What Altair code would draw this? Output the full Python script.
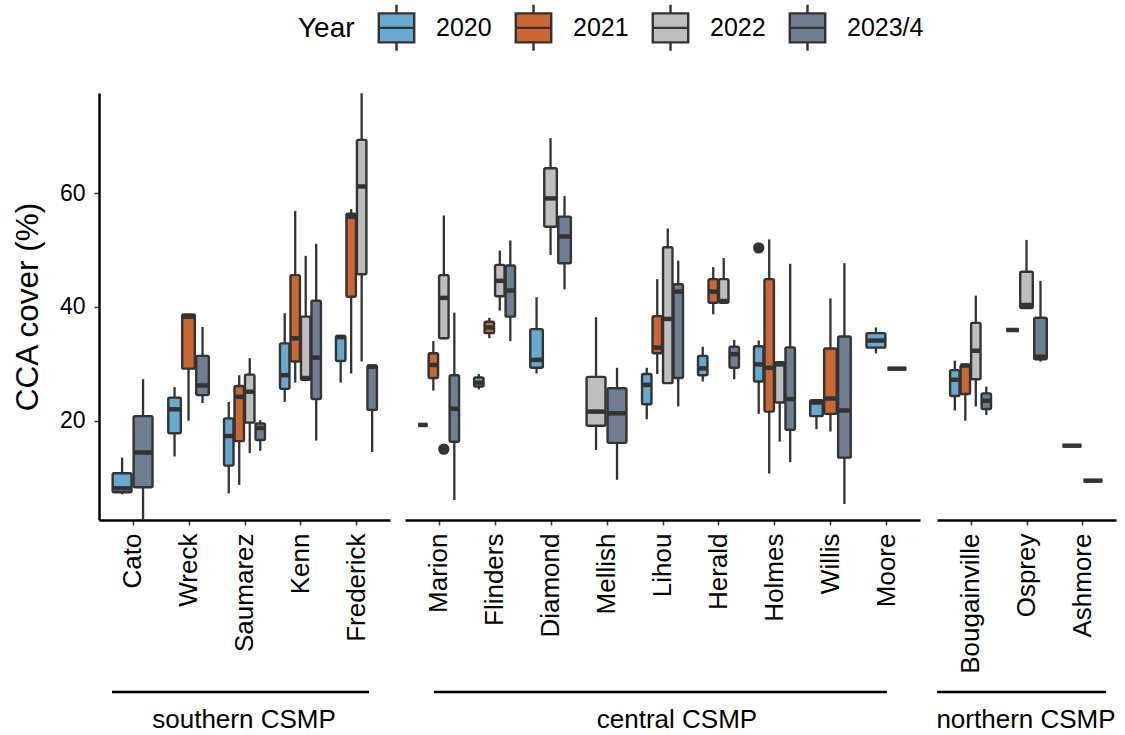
import altair as alt
import pandas as pd

FONT = "Liberation Sans"

south_sites = ["Cato", "Wreck", "Saumarez", "Kenn", "Frederick"]
central_sites = ["Marion", "Flinders", "Diamond", "Mellish", "Lihou", "Herald", "Holmes", "Willis", "Moore"]
north_sites = ["Bougainville", "Osprey", "Ashmore"]
years = ["2020", "2021", "2022", "2023/4"]
colors = ["#68A9CF", "#CC6633", "#BEBEBE", "#6F7F91"]

site = ["Cato", "Cato",
        "Wreck", "Wreck", "Wreck",
        "Saumarez", "Saumarez", "Saumarez", "Saumarez",
        "Kenn", "Kenn", "Kenn", "Kenn",
        "Frederick", "Frederick", "Frederick", "Frederick",
        "Marion", "Marion", "Marion", "Marion",
        "Flinders", "Flinders", "Flinders", "Flinders",
        "Diamond", "Diamond", "Diamond",
        "Mellish", "Mellish",
        "Lihou", "Lihou", "Lihou", "Lihou",
        "Herald", "Herald", "Herald", "Herald",
        "Holmes", "Holmes", "Holmes", "Holmes",
        "Willis", "Willis", "Willis",
        "Moore", "Moore",
        "Bougainville", "Bougainville", "Bougainville", "Bougainville",
        "Osprey", "Osprey", "Osprey",
        "Ashmore", "Ashmore"]
year = ["2020", "2023/4",
        "2020", "2021", "2023/4",
        "2020", "2021", "2022", "2023/4",
        "2020", "2021", "2022", "2023/4",
        "2020", "2021", "2022", "2023/4",
        "2020", "2021", "2022", "2023/4",
        "2020", "2021", "2022", "2023/4",
        "2020", "2022", "2023/4",
        "2022", "2023/4",
        "2020", "2021", "2022", "2023/4",
        "2020", "2021", "2022", "2023/4",
        "2020", "2021", "2022", "2023/4",
        "2020", "2021", "2023/4",
        "2020", "2023/4",
        "2020", "2021", "2022", "2023/4",
        "2021", "2022", "2023/4",
        "2022", "2023/4"]
lo = [7.05, 2.6,
      13.7, 20.0, 23.1,
      7.2, 8.7, 14.3, 14.7,
      23.3, 26.7, 27.0, 16.5,
      26.7, 28.3, 30.4, 14.5,
      19.25, 25.3, 34.5, 6.05,
      25.5, 34.5, 39.35, 34.0,
      28.3, 49.15, 43.1,
      14.85, 9.6,
      20.25, 28.2, 26.5, 22.5,
      26.9, 38.7, 40.75, 27.3,
      21.2, 10.7, 16.3, 12.7,
      18.5, 18.1, 5.35,
      31.85, 29.15,
      21.8, 20.0, 22.5, 21.0,
      35.95, 39.8, 30.4,
      15.6, 9.45]
q1 = [7.4, 8.3,
      17.8, 29.15, 24.5,
      12.1, 16.4, 19.65, 16.6,
      25.6, 30.4, 27.2, 23.8,
      30.5, 41.8, 45.75, 21.9,
      19.25, 27.5, 34.5, 16.3,
      26.0, 35.4, 41.9, 38.3,
      29.3, 54.1, 47.7,
      19.1, 16.1,
      22.9, 31.85, 26.6, 27.5,
      28.0, 40.75, 40.75, 29.3,
      26.9, 21.6, 23.2, 18.4,
      20.8, 21.2, 13.5,
      32.85, 29.15,
      24.35, 24.7, 27.3, 22.05,
      35.95, 39.8, 30.8,
      15.6, 9.45]
med = [8.1, 14.4,
       22.0, 38.3, 26.2,
       17.3, 24.2, 25.1, 18.7,
       28.0, 34.5, 27.5, 31.1,
       34.7, 55.9, 61.2, 29.5,
       19.25, 29.8, 41.6, 22.1,
       26.7, 36.4, 44.6, 42.9,
       30.7, 59.1, 52.4,
       21.6, 21.3,
       26.3, 32.85, 37.9, 42.7,
       29.2, 42.7, 41.05, 31.7,
       29.9, 29.3, 29.9, 23.8,
       23.2, 23.9, 21.8,
       34.1, 29.15,
       27.2, 29.7, 32.3, 23.5,
       35.95, 40.35, 31.25,
       15.6, 9.45]
q3 = [10.75, 20.8,
      24.05, 38.7, 31.4,
      20.4, 26.1, 28.1, 19.5,
      33.6, 45.6, 38.3, 41.1,
      34.9, 56.4, 69.4, 29.7,
      19.25, 31.85, 45.6, 28.0,
      27.6, 37.4, 47.4, 47.3,
      36.1, 64.4, 55.9,
      27.7, 25.7,
      28.2, 38.4, 50.5, 44.0,
      31.4, 44.9, 44.9, 33.0,
      33.1, 44.9, 30.3, 32.9,
      23.6, 32.7, 34.8,
      35.4, 29.15,
      28.9, 29.8, 37.2, 24.8,
      35.95, 46.2, 38.1,
      15.6, 9.45]
hi = [13.5, 27.3,
      25.9, 38.8, 36.5,
      23.3, 28.0, 31.0, 20.1,
      38.9, 56.9, 49.0, 51.1,
      35.1, 57.2, 77.6, 29.7,
      19.25, 34.0, 56.1, 39.0,
      28.2, 38.1, 49.9, 51.7,
      41.7, 69.7, 59.5,
      38.2, 29.3,
      29.3, 44.9, 53.8, 48.15,
      33.0, 47.0, 48.6, 34.2,
      34.1, 51.9, 30.3, 47.6,
      23.6, 41.5, 47.7,
      36.4, 29.15,
      30.55, 30.0, 42.0, 26.0,
      35.95, 51.8, 44.6,
      15.6, 9.45]

out_site = ["Marion", "Holmes"]
out_year = ["2022", "2020"]
out_value = [15.0, 50.4]

df = pd.DataFrame(dict(site=site, year=year, lo=lo, q1=q1, med=med, q3=q3, hi=hi))
order = {}
for lst in (south_sites, central_sites, north_sites):
    for i, s in enumerate(lst):
        order[s] = i + 1
df["idx"] = df["site"].map(order)
df["out"] = None
for s, y, v in zip(out_site, out_year, out_value):
    df.loc[(df.site == s) & (df.year == y), "out"] = v

YDOM = [2.53, 77.64]
H = 427
STROKE = "#333333"


def panel(sites, width, group_label, lx, lx2, tx, show_y, show_legend):
    n = len(sites)
    d = df[df.site.isin(sites)].reset_index(drop=True)
    names = ",".join("'%s'" % s for s in sites)
    xscale = alt.Scale(domain=[0.4, n + 0.6], nice=False, zero=False)
    xaxis = alt.Axis(values=list(range(1, n + 1)), labelExpr="[%s][datum.value - 1]" % names,
                     title=None, labelAngle=270, labelAlign="right", labelBaseline="middle",
                     labelPadding=8, labelOverlap=False, labelFlush=False, grid=False)
    yscale = alt.Scale(domain=YDOM, nice=False, zero=False)
    if show_y:
        yaxis = alt.Axis(values=[20, 40, 60], title="CCA cover (%)", grid=False)
    else:
        yaxis = None

    base = (alt.Chart(d)
            .transform_window(slot="row_number()", groupby=["site"], sort=[alt.SortField("year")])
            .transform_joinaggregate(k="count()", groupby=["site"])
            .transform_calculate(center="datum.idx - 0.375 + (datum.slot - 0.5) * 0.75 / datum.k")
            .transform_calculate(left="datum.center - 0.3375 / datum.k")
            .transform_calculate(right="datum.center + 0.3375 / datum.k"))

    whisker = base.mark_rule(color=STROKE, strokeWidth=2.3).encode(
        x=alt.X("center:Q", scale=xscale, axis=xaxis),
        y=alt.Y("lo:Q", scale=yscale, axis=yaxis),
        y2="hi:Q")
    legend = alt.Legend(title="Year") if show_legend else None
    box = base.mark_rect(stroke=STROKE, strokeWidth=2.4, cornerRadius=1.5).encode(
        x=alt.X("left:Q", scale=xscale),
        x2="right:Q",
        y=alt.Y("q1:Q", scale=yscale),
        y2="q3:Q",
        fill=alt.Fill("year:N", scale=alt.Scale(domain=years, range=colors), legend=legend))
    median = base.mark_rule(color=STROKE, strokeWidth=4.5).encode(
        x=alt.X("left:Q", scale=xscale), x2="right:Q",
        y=alt.Y("med:Q", scale=yscale))
    outl = base.transform_filter("datum.out != null").mark_circle(size=130, color=STROKE, opacity=1).encode(
        x=alt.X("center:Q", scale=xscale),
        y=alt.Y("out:Q", scale=yscale))

    deco = pd.DataFrame({"label": [group_label]})
    line = alt.Chart(deco).mark_rule(color="black", strokeWidth=2.5).encode(
        x=alt.value(lx), x2=alt.value(lx2), y=alt.value(H + 172))
    text = alt.Chart(deco).mark_text(font=FONT, fontSize=26, color="black",
                                     align="center", baseline="middle").encode(
        x=alt.value(tx), y=alt.value(H + 200), text="label:N")

    return alt.layer(whisker, box, median, outl, line, text).properties(width=width, height=H)


p1 = panel(south_sites, 291, "southern CSMP", 13, 270, 145, True, True)
p2 = panel(central_sites, 515, "central CSMP", 29, 482, 272, False, False)
p3 = panel(north_sites, 179, "northern CSMP", 0, 169, 89, False, False)

legend_path = "M-0.77,-0.63H0.77V0.63H-0.77Z M-0.77,0H0.77 M0,-0.63V-1 M0,0.63V1"

chart = (alt.hconcat(p1, p2, p3, spacing=15)
         .resolve_scale(color="shared", x="independent", y="independent")
         .properties(padding={"left": 12, "top": 3, "right": 4, "bottom": 2})
         .configure(font=FONT)
         .configure_view(strokeWidth=0, stroke="transparent")
         .configure_axis(labelFont=FONT, titleFont=FONT, labelColor="black", titleColor="black",
                         labelFontSize=23, titleFontSize=31.5, titleFontWeight="normal",
                         domainColor="black", domainWidth=2.5, tickColor="#333333",
                         tickWidth=1.5, tickSize=5, titlePadding=15)
         .configure_axisX(labelFontSize=26)
         .configure_axisY(labelPadding=9)
         .configure_legend(orient="none", legendX=199, legendY=-90, direction="horizontal",
                           titleOrient="left", titleFontSize=28, titleFontWeight="normal",
                           titleColor="black", titleFont=FONT, labelFont=FONT,
                           labelFontSize=25, labelColor="black", labelOffset=15,
                           titlePadding=17, columnPadding=17, symbolType=legend_path,
                           symbolSize=2116, symbolStrokeColor=STROKE, symbolStrokeWidth=2.4,
                           symbolOpacity=1))

chart.save("out.html", embed_options={"renderer": "svg", "actions": False})
